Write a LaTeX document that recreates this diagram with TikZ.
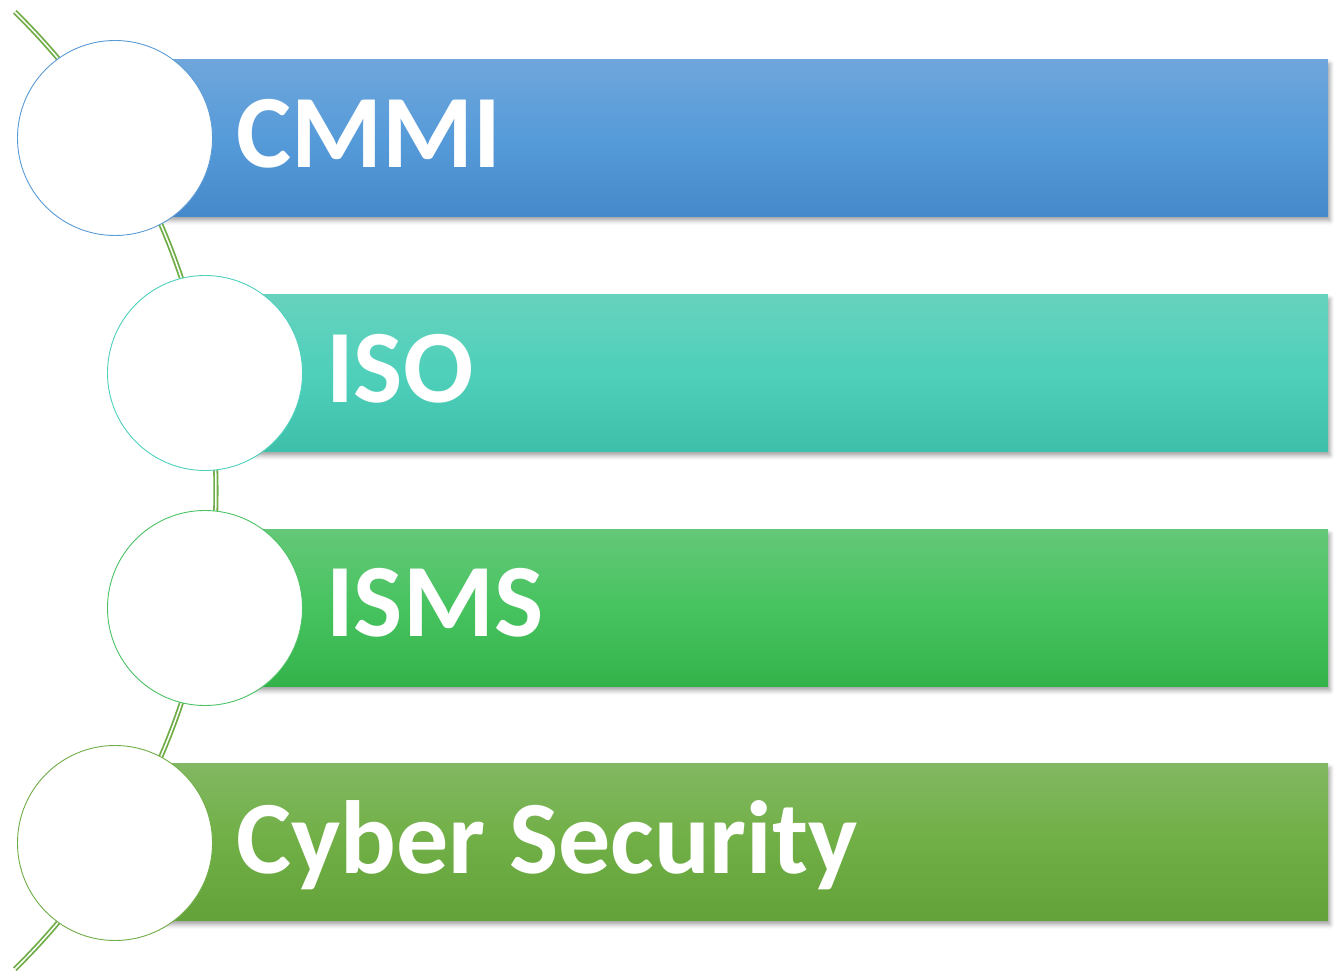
\documentclass[tikz,border=0pt]{standalone}
\usepackage{fontspec}
\setmainfont{Carlito}
\usetikzlibrary{shadows.blur}
\definecolor{bAt}{HTML}{6FA6DB}\definecolor{bAm}{HTML}{569BD9}\definecolor{bAb}{HTML}{4689CA}
\definecolor{bBt}{HTML}{67D2BE}\definecolor{bBm}{HTML}{4ED0BA}\definecolor{bBb}{HTML}{3DBFAA}
\definecolor{bCt}{HTML}{64C878}\definecolor{bCm}{HTML}{46C35F}\definecolor{bCb}{HTML}{34B24A}
\definecolor{bDt}{HTML}{82B862}\definecolor{bDm}{HTML}{70AF45}\definecolor{bDb}{HTML}{62A238}
\definecolor{ringA}{HTML}{5B9BD5}\definecolor{ringB}{HTML}{4FD1BD}
\definecolor{ringC}{HTML}{4CC265}\definecolor{ringD}{HTML}{70AD47}
\definecolor{arcgreen}{HTML}{70AD47}
\tikzset{
  barbox/.style={rectangle, inner sep=0pt, anchor=south west, minimum height=157pt,
    blur shadow={shadow xshift=2pt, shadow yshift=-4pt, shadow blur radius=4pt, shadow opacity=35}},
  ringnode/.style={circle, inner sep=0pt, minimum size=195pt, fill=white, line width=0.9pt},
  labeltext/.style={anchor=base west, inner sep=0pt, text=white, font=\fontsize{104}{124}\selectfont\bfseries}
}
\begin{document}
\begin{tikzpicture}[x=1pt,y=1pt]
\useasboundingbox (0,0) rectangle (1340,975);
% bars
\node[barbox, minimum width=1213pt, top color=bAt, bottom color=bAb, middle color=bAm] (barA) at (115,758) {};
\node[barbox, minimum width=1123pt, top color=bBt, bottom color=bBb, middle color=bBm] (barB) at (205,523) {};
\node[barbox, minimum width=1123pt, top color=bCt, bottom color=bCb, middle color=bCm] (barC) at (205,288) {};
\node[barbox, minimum width=1213pt, top color=bDt, bottom color=bDb, middle color=bDm] (barD) at (115,54) {};
% arc
\draw[arcgreen, line width=1.8pt, double=white, double distance=1.5pt]
  ([shift={(45.6:670)}]-454,484.5) arc[start angle=45.6, end angle=-45.6, radius=670];
% circles
\node[ringnode, draw=ringA] (cA) at (115,837) {};
\node[ringnode, draw=ringB] (cB) at (205,602) {};
\node[ringnode, draw=ringC] (cC) at (205,367) {};
\node[ringnode, draw=ringD] (cD) at (115,132) {};
% labels
\node[labeltext] (tA) at (236,807) {CMMI};
\node[labeltext] (tB) at (326,572) {ISO};
\node[labeltext] (tC) at (326,338) {ISMS};
\node[labeltext] (tD) at (236,102) {Cyber Security};
\end{tikzpicture}
\end{document}
